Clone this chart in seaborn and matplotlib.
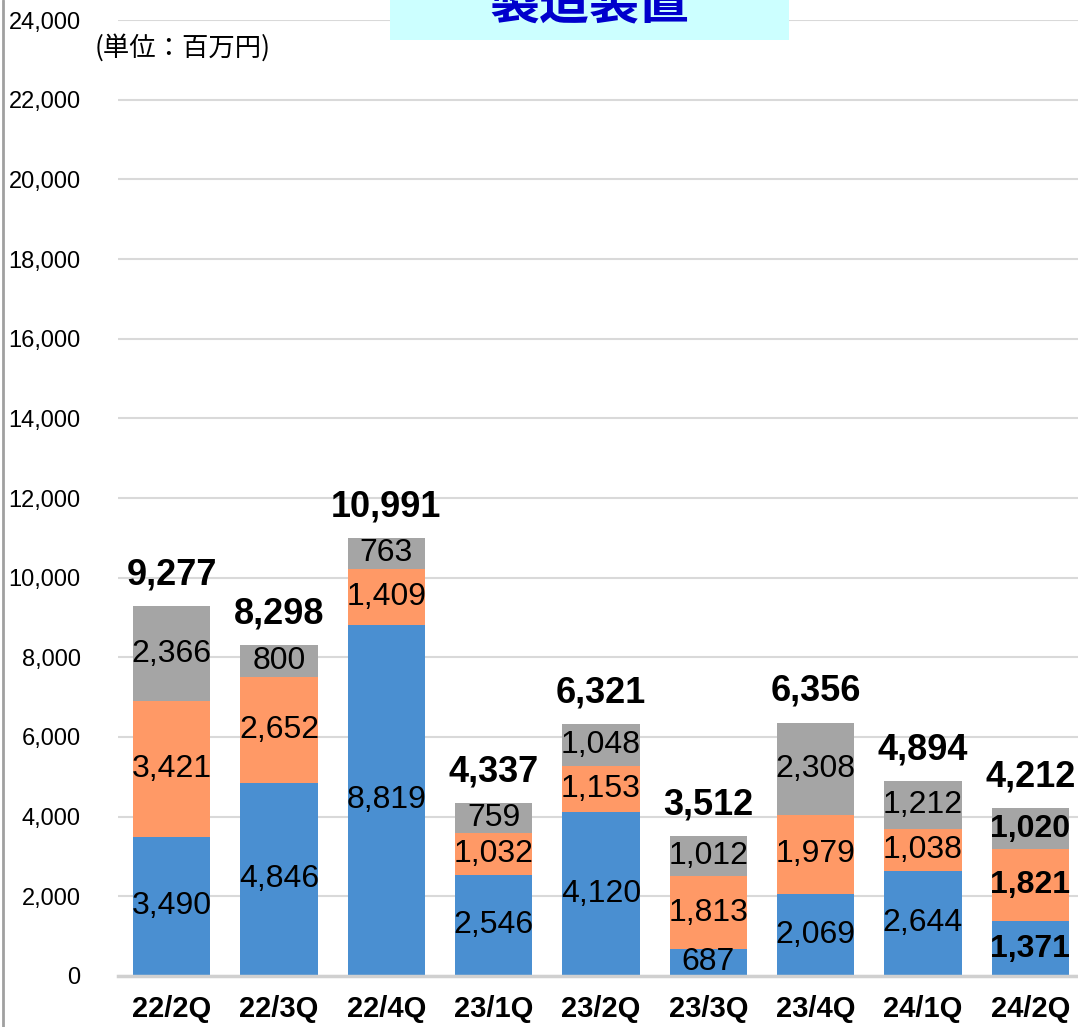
import matplotlib.pyplot as plt
import seaborn as sns
import pandas as pd
from matplotlib.patches import Rectangle
from matplotlib.lines import Line2D

# データ (単位: 百万円)
quarters = ['22/2Q', '22/3Q', '22/4Q', '23/1Q', '23/2Q', '23/3Q', '23/4Q', '24/1Q', '24/2Q']
blue_vals = [3490, 4846, 8819, 2546, 4120, 687, 2069, 2644, 1371]
orange_vals = [3421, 2652, 1409, 1032, 1153, 1813, 1979, 1038, 1821]
gray_vals = [2366, 800, 763, 759, 1048, 1012, 2308, 1212, 1020]
y_ticks = list(range(0, 24001, 2000))

df = pd.DataFrame({'q': quarters, 'blue': blue_vals, 'orange': orange_vals, 'gray': gray_vals})
df['b2'] = df['blue'] + df['orange']
df['total'] = df['b2'] + df['gray']

sns.set_style('white')
plt.rcParams['font.family'] = ['Liberation Sans', 'Noto Sans CJK JP', 'DejaVu Sans']
plt.rcParams['text.color'] = 'black'
plt.rcParams['xtick.color'] = 'black'
plt.rcParams['ytick.color'] = 'black'

fig = plt.figure(figsize=(10.78, 10.27), dpi=100)
ax = fig.add_axes([118 / 1078, 51 / 1027, 966 / 1078, 956 / 1027])

w = 0.72
sns.barplot(data=df, x='q', y='blue', color='#4A8FD1', saturation=1, width=w, linewidth=0, ax=ax)
sns.barplot(data=df, x='q', y='orange', bottom=df['blue'], color='#FF9966', saturation=1, width=w, linewidth=0, ax=ax)
sns.barplot(data=df, x='q', y='gray', bottom=df['b2'], color='#A5A5A5', saturation=1, width=w, linewidth=0, ax=ax)

last = len(quarters) - 1
for c in ax.containers:
    labels = [f'{int(round(b.get_height())):,}' for b in c]
    texts = ax.bar_label(c, labels=labels, label_type='center', fontsize=23, color='black')
    texts[last].set_fontweight('bold')

for i, t in enumerate(df['total']):
    ax.annotate(f'{t:,}', (i, t), xytext=(0, 10), textcoords='offset points',
                ha='center', va='bottom', fontsize=26, fontweight='bold', color='black')

ax.set_ylim(0, 24000)
ax.set_xlim(-0.5, len(quarters) - 0.5)
ax.set_yticks(y_ticks)
ax.set_yticklabels([f'{v:,}' for v in y_ticks], fontsize=17)
ax.tick_params(axis='y', length=0, pad=27)
ax.tick_params(axis='x', length=0, pad=14)
for lab in ax.get_xticklabels():
    lab.set_fontsize(21)
    lab.set_fontweight('bold')
ax.set_xlabel('')
ax.set_ylabel('')
ax.grid(axis='y', color='#D9D9D9', linewidth=1.5)
ax.set_axisbelow(True)
for s in ['top', 'right', 'left']:
    ax.spines[s].set_visible(False)
ax.spines['bottom'].set_color('#D0D0D0')
ax.spines['bottom'].set_linewidth(2.5)

fig.text(95 / 1078, 1 - 48 / 1027, '(単位：百万円)', fontsize=19, ha='left', va='center',
         family=['Noto Sans CJK JP', 'DejaVu Sans'], color='black')

# タイトル枠 (上端で切れている)
fig.patches.append(Rectangle((390 / 1078, 1 - 40 / 1027), 399 / 1078, 60 / 1027,
                             transform=fig.transFigure, facecolor='#CCFFFF', edgecolor='none', zorder=5))
fig.text(589 / 1078, 1 - 5 / 1027, '製造装置', fontsize=36, fontweight='bold', color='#0000CC',
         ha='center', va='center', family=['Noto Sans CJK JP'], zorder=6)
fig.lines.append(Line2D([3 / 1078, 3 / 1078], [0, 1], transform=fig.transFigure, color='#A0A0A0', linewidth=2))

fig.savefig('out.png', dpi=100)
